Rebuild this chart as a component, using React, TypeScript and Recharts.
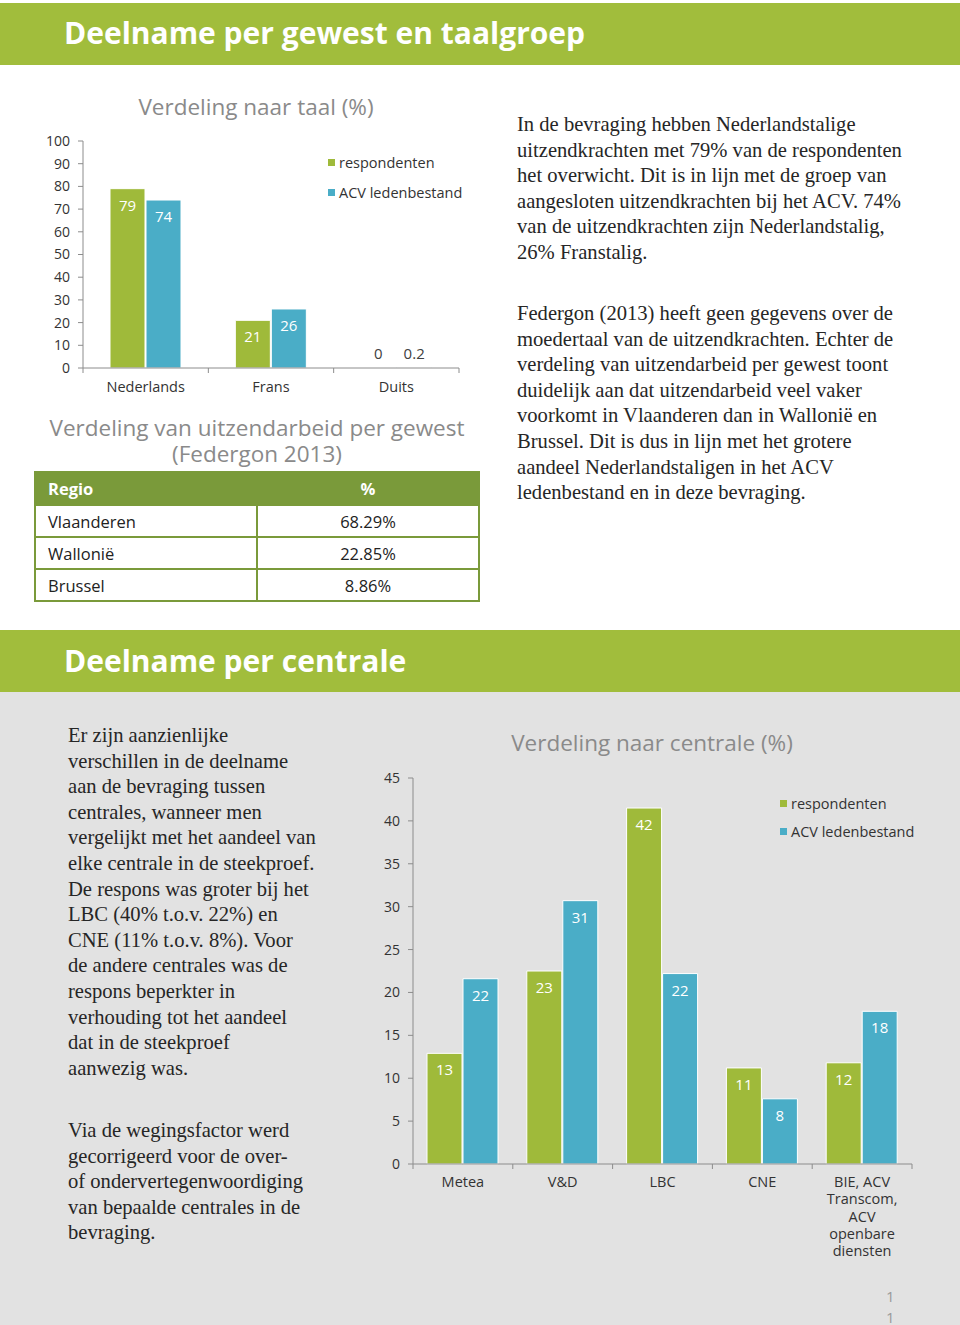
import React from "react";
import { BarChart, Bar, XAxis, YAxis, LabelList, Legend } from "recharts";

const GREEN = "#9fba3a";
const BLUE = "#4aadc7";
const BAND = "#a1bd3c";
const TABLE_GREEN = "#7a9a3a";
const AXIS = "#8c8c8c";
const SANS = "'Open Sans', 'DejaVu Sans', sans-serif";
const SERIF = "'Liberation Serif', 'DejaVu Serif', serif";

const seriesNames = ["respondenten", "ACV ledenbestand"];

// Verdeling naar taal (%)
const taalCategories = ["Nederlands", "Frans", "Duits"];
const taalRespondenten = [79, 21, 0];
const taalLedenbestand = [74, 26, 0.2];
const taalTicks = [0, 10, 20, 30, 40, 50, 60, 70, 80, 90, 100];

// Verdeling van uitzendarbeid per gewest (Federgon 2013)
const gewestRegio = ["Vlaanderen", "Wallonië", "Brussel"];
const gewestAandeel = ["68.29%", "22.85%", "8.86%"];

// Verdeling naar centrale (%)
const centraleCategories = [
	"Metea",
	"V&D",
	"LBC",
	"CNE",
	"BIE, ACV\nTranscom,\nACV\nopenbare\ndiensten",
];
const centraleRespondenten = [12.9, 22.5, 41.5, 11.2, 11.8];
const centraleLedenbestand = [21.6, 30.7, 22.2, 7.6, 17.8];
const centraleTicks = [0, 5, 10, 15, 20, 25, 30, 35, 40, 45];

const taalTekst = [
	[
		"In de bevraging hebben Nederlandstalige",
		"uitzendkrachten met 79% van de respondenten",
		"het overwicht. Dit is in lijn met de groep van",
		"aangesloten uitzendkrachten bij het ACV. 74%",
		"van de uitzendkrachten zijn Nederlandstalig,",
		"26% Franstalig.",
	],
	[
		"Federgon (2013) heeft geen gegevens over de",
		"moedertaal van de uitzendkrachten. Echter de",
		"verdeling van uitzendarbeid per gewest toont",
		"duidelijk aan dat uitzendarbeid veel vaker",
		"voorkomt in Vlaanderen dan in Wallonië en",
		"Brussel. Dit is dus in lijn met het grotere",
		"aandeel Nederlandstaligen in het ACV",
		"ledenbestand en in deze bevraging.",
	],
];

const centraleTekst = [
	[
		"Er zijn aanzienlijke",
		"verschillen in de deelname",
		"aan de bevraging tussen",
		"centrales, wanneer men",
		"vergelijkt met het aandeel van",
		"elke centrale in de steekproef.",
		"De respons was groter bij het",
		"LBC (40% t.o.v. 22%) en",
		"CNE (11% t.o.v. 8%). Voor",
		"de andere centrales was de",
		"respons beperkter in",
		"verhouding tot het aandeel",
		"dat in de steekproef",
		"aanwezig was.",
	],
	[
		"Via de wegingsfactor werd",
		"gecorrigeerd voor de over-",
		"of ondervertegenwoordiging",
		"van bepaalde centrales in de",
		"bevraging.",
	],
];

const taalData = taalCategories.map((name, i) => ({
	name,
	r: taalRespondenten[i],
	a: taalLedenbestand[i],
}));

const centraleData = centraleCategories.map((name, i) => ({
	name,
	r: centraleRespondenten[i],
	a: centraleLedenbestand[i],
}));

// value label: white inside the bar, dark above a (near) empty bar
const BarValue = (props: any) => {
	const { x, y, width, value } = props;
	const cx = Number(x) + Number(width) / 2;
	if (Number(value) < 1) {
		return (
			<text x={cx} y={Number(y) - 9} textAnchor="middle" fill="#404040" fontSize={15} fontFamily={SANS}>
				{value}
			</text>
		);
	}
	return (
		<text x={cx} y={Number(y) + 22} textAnchor="middle" fill="#fff" fontSize={15} fontFamily={SANS}>
			{Math.round(Number(value))}
		</text>
	);
};

// keep a zero bar "present" so its label is still drawn
const zeroSize = (value: any) => (Number(value) === 0 ? 0.01 : 0);

// category label + tick marks on the band boundaries
const makeCategoryTick = (band: number, count: number, offset: number, lineHeight: number) => (props: any) => {
	const { x, y, payload, index } = props;
	const lines = String(payload.value).split("\n");
	return (
		<g>
			<line x1={x - band / 2} x2={x - band / 2} y1={y} y2={y + 5} stroke={AXIS} />
			{index === count - 1 && <line x1={x + band / 2} x2={x + band / 2} y1={y} y2={y + 5} stroke={AXIS} />}
			<text x={x} y={y + offset} textAnchor="middle" fill="#333" fontSize={14.5} fontFamily={SANS}>
				{lines.map((l, i) => (
					<tspan key={i} x={x} dy={i === 0 ? 0 : lineHeight}>
						{l}
					</tspan>
				))}
			</text>
		</g>
	);
};

const makeLegend = (spacing: number) => () => (
	<div style={{ fontFamily: SANS, fontSize: 14.5, color: "#333" }}>
		{seriesNames.map((n, i) => (
			<div key={n} style={{ display: "flex", alignItems: "center", height: spacing }}>
				<span style={{ width: 7, height: 7, background: i === 0 ? GREEN : BLUE, marginRight: 4 }} />
				<span>{n}</span>
			</div>
		))}
	</div>
);

const chartTitle: React.CSSProperties = {
	position: "absolute",
	fontFamily: SANS,
	fontSize: 22.5,
	color: "#8a8a8a",
	textAlign: "center",
	whiteSpace: "nowrap",
	lineHeight: "26px",
};

const serifBlock: React.CSSProperties = {
	position: "absolute",
	fontFamily: SERIF,
	fontSize: 20.6,
	lineHeight: "25.6px",
	color: "#262626",
	whiteSpace: "nowrap",
};

const TextLines = ({ lines, left, top }: { lines: string[]; left: number; top: number }) => (
	<div style={{ ...serifBlock, left, top }}>
		{lines.map((l, i) => (
			<div key={i}>{l}</div>
		))}
	</div>
);

const TOP_W = 490;
const TOP_YW = 83;
const TOP_MR = 31;
const BOT_W = 640;
const BOT_YW = 113;
const BOT_MR = 28;

export default function App() {
	const topBand = (TOP_W - TOP_YW - TOP_MR) / taalCategories.length;
	const botBand = (BOT_W - BOT_YW - BOT_MR) / centraleCategories.length;
	const cell: React.CSSProperties = {
		border: `2px solid ${TABLE_GREEN}`,
		height: 30,
		padding: "0 12px",
		fontFamily: SANS,
		fontSize: 16.5,
		color: "#222",
	};

	return (
		<div style={{ position: "absolute", left: 0, top: 0, width: 960, height: 1325, background: "#fff", overflow: "hidden" }}>
			{/* header 1 */}
			<div style={{ position: "absolute", left: 0, top: 3, width: 960, height: 62, background: BAND }} />
			<div style={{ position: "absolute", left: 64, top: 13, fontFamily: SANS, fontWeight: 700, fontSize: 30, color: "#fff", lineHeight: "40px" }}>
				Deelname per gewest en taalgroep
			</div>

			<div style={{ ...chartTitle, left: 0, width: 512, top: 94 }}>Verdeling naar taal (%)</div>
			<div style={{ position: "absolute", left: 0, top: 90 }}>
				<BarChart
					width={TOP_W}
					height={320}
					data={taalData}
					margin={{ top: 51, right: TOP_MR, bottom: 0, left: 0 }}
					barCategoryGap={27}
					barGap={1}>
					<YAxis
						width={TOP_YW}
						domain={[0, 100]}
						ticks={taalTicks}
						interval={0}
						tickSize={5}
						tickMargin={8}
						stroke={AXIS}
						tick={{ fill: "#333", fontSize: 14, fontFamily: SANS }}
					/>
					<XAxis
						dataKey="name"
						height={42}
						stroke={AXIS}
						tickLine={false}
						tickSize={0}
						tickMargin={0}
						interval={0}
						tick={makeCategoryTick(topBand, taalCategories.length, 24, 17)}
					/>
					<Legend
						layout="vertical"
						align="center"
						verticalAlign="middle"
						content={makeLegend(30)}
						wrapperStyle={{ position: "absolute", left: 328, top: 57, width: 160, height: 60 }}
					/>
					<Bar dataKey="r" fill={GREEN} stroke="#fff" strokeWidth={1} minPointSize={zeroSize} isAnimationActive={false}>
						<LabelList dataKey="r" content={BarValue} />
					</Bar>
					<Bar dataKey="a" fill={BLUE} stroke="#fff" strokeWidth={1} minPointSize={zeroSize} isAnimationActive={false}>
						<LabelList dataKey="a" content={BarValue} />
					</Bar>
				</BarChart>
			</div>

			<div style={{ ...chartTitle, left: 0, width: 514, top: 415 }}>
				Verdeling van uitzendarbeid per gewest
				<br />
				(Federgon 2013)
			</div>
			<table
				style={{
					position: "absolute",
					left: 34,
					top: 471,
					width: 446,
					borderCollapse: "collapse",
				}}>
				<thead>
					<tr>
						<th style={{ ...cell, height: 31, background: TABLE_GREEN, color: "#fff", textAlign: "left", fontWeight: 700, width: 196 }}>Regio</th>
						<th style={{ ...cell, height: 31, background: TABLE_GREEN, color: "#fff", textAlign: "center", fontWeight: 700 }}>%</th>
					</tr>
				</thead>
				<tbody>
					{gewestRegio.map((r, i) => (
						<tr key={r}>
							<td style={{ ...cell, textAlign: "left" }}>{r}</td>
							<td style={{ ...cell, textAlign: "center" }}>{gewestAandeel[i]}</td>
						</tr>
					))}
				</tbody>
			</table>

			<TextLines lines={taalTekst[0]} left={517} top={112} />
			<TextLines lines={taalTekst[1]} left={517} top={301} />

			{/* header 2 */}
			<div style={{ position: "absolute", left: 0, top: 630, width: 960, height: 62, background: BAND }} />
			<div style={{ position: "absolute", left: 64, top: 641, fontFamily: SANS, fontWeight: 700, fontSize: 30, color: "#fff", lineHeight: "40px" }}>
				Deelname per centrale
			</div>
			<div style={{ position: "absolute", left: 0, top: 692, width: 960, height: 633, background: "#e2e2e2" }} />

			<TextLines lines={centraleTekst[0]} left={68} top={723} />
			<TextLines lines={centraleTekst[1]} left={68} top={1118} />

			<div style={{ ...chartTitle, left: 452, width: 400, top: 730 }}>Verdeling naar centrale (%)</div>
			<div style={{ position: "absolute", left: 300, top: 760 }}>
				<BarChart
					width={BOT_W}
					height={510}
					data={centraleData}
					margin={{ top: 18, right: BOT_MR, bottom: 0, left: 0 }}
					barCategoryGap={14}
					barGap={1}>
					<YAxis
						width={BOT_YW}
						domain={[0, 45]}
						ticks={centraleTicks}
						interval={0}
						tickSize={5}
						tickMargin={8}
						stroke={AXIS}
						tick={{ fill: "#333", fontSize: 14, fontFamily: SANS }}
					/>
					<XAxis
						dataKey="name"
						height={106}
						stroke={AXIS}
						tickLine={false}
						tickSize={0}
						tickMargin={0}
						interval={0}
						tick={makeCategoryTick(botBand, centraleCategories.length, 23, 17.3)}
					/>
					<Legend
						layout="vertical"
						align="center"
						verticalAlign="middle"
						content={makeLegend(28)}
						wrapperStyle={{ position: "absolute", left: 480, top: 29, width: 160, height: 56 }}
					/>
					<Bar dataKey="r" fill={GREEN} stroke="#fff" strokeWidth={1} isAnimationActive={false}>
						<LabelList dataKey="r" content={BarValue} />
					</Bar>
					<Bar dataKey="a" fill={BLUE} stroke="#fff" strokeWidth={1} isAnimationActive={false}>
						<LabelList dataKey="a" content={BarValue} />
					</Bar>
				</BarChart>
			</div>

			<div style={{ position: "absolute", left: 886, top: 1286, fontFamily: SANS, fontSize: 15, color: "#9a9a9a", lineHeight: "21px" }}>
				1
				<br />1
			</div>
		</div>
	);
}
